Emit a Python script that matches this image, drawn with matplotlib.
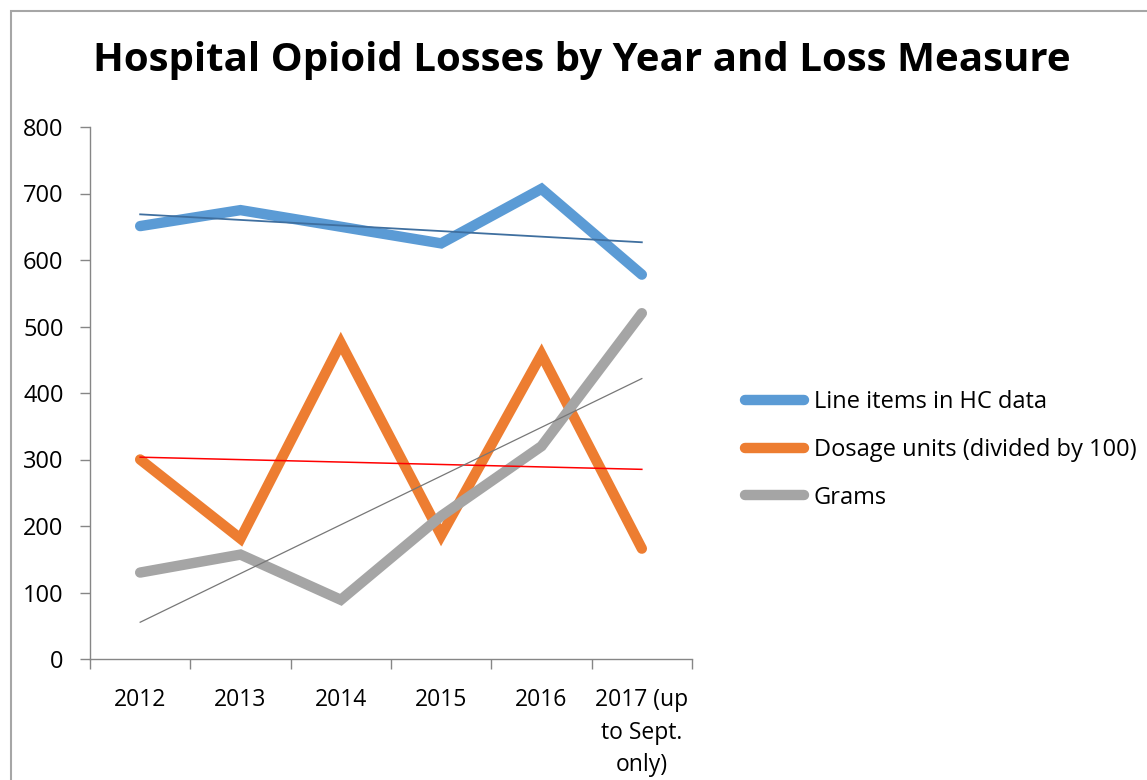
import numpy as np
import matplotlib.pyplot as plt
from matplotlib.patches import Rectangle

plt.rcParams['font.family'] = ['Open Sans', 'DejaVu Sans']

# data
years = ["2012", "2013", "2014", "2015", "2016", "2017 (up\nto Sept.\nonly)"]
line_items = [651, 675, 650, 625, 707, 578]
dosage_units = [300, 181, 475, 186, 458, 166]
grams = [130, 157, 89, 215, 320, 520]

series = [
    ("Line items in HC data", line_items, "#5b9bd5", "#3f6f9f", 1.3),
    ("Dosage units (divided by 100)", dosage_units, "#ed7d31", "#ff0000", 1.1),
    ("Grams", grams, "#a5a5a5", "#777777", 0.9),
]

fig = plt.figure(figsize=(11.47, 7.8), dpi=100)
ax = fig.add_axes([90 / 1147, 1 - 659 / 780, 602 / 1147, 532 / 780])

x = np.arange(len(years))
handles = []
for label, vals, color, tcolor, tw in series:
    h, = ax.plot(x, vals, color=color, lw=7.5, solid_capstyle="round",
                 solid_joinstyle="miter", label=label, zorder=2)
    handles.append(h)
    # linear trendline like Excel's
    k, b = np.polyfit(x, vals, 1)
    ax.plot([x[0], x[-1]], [k * x[0] + b, k * x[-1] + b], color=tcolor, lw=tw, zorder=3)

ax.set_xlim(-0.5, len(years) - 0.5)
ax.set_ylim(0, 800)
ax.set_yticks(range(0, 801, 100))
ax.set_xticks(x)
ax.set_xticklabels(years, fontsize=16.5, linespacing=1.48)
ax.set_xticks(np.arange(-0.5, len(years)), minor=True)
ax.tick_params(axis="x", which="major", length=0, pad=21)
ax.tick_params(axis="x", which="minor", length=7, color="#868686", width=1)
ax.tick_params(axis="y", length=7, color="#868686", width=1, pad=12, labelsize=17)

for s in ["top", "right"]:
    ax.spines[s].set_visible(False)
for s in ["left", "bottom"]:
    ax.spines[s].set_color("#868686")
    ax.spines[s].set_linewidth(1)

fig.text(0.507, 0.922, "Hospital Opioid Losses by Year and Loss Measure",
         ha="center", va="center", fontsize=29, fontweight="bold")

fig.legend(handles=handles, loc="center left", bbox_to_anchor=(724 / 1147, 1 - 450 / 780),
           frameon=False, fontsize=17, handlelength=2.5, handletextpad=0.4,
           labelspacing=1.0)

fig.patches.append(Rectangle((11 / 1147, -0.5), 2, 1.5 - 11 / 780, transform=fig.transFigure,
                             fill=False, edgecolor="#a6a6a6", lw=1.5))

fig.savefig("out.png", dpi=100)
